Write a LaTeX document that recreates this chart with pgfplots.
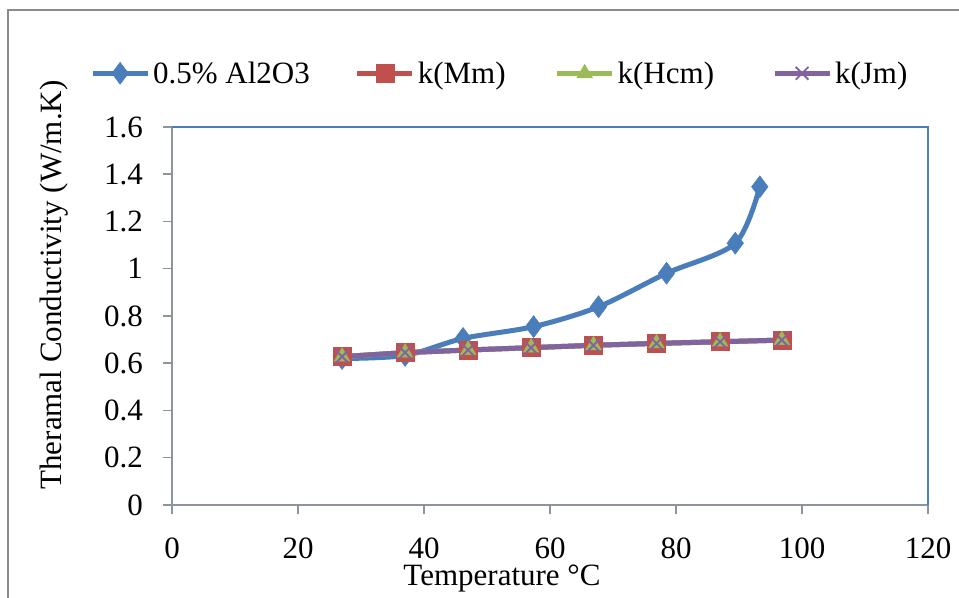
\documentclass[border=0pt]{standalone}
\usepackage{fontspec}
\setmainfont{Liberation Serif}
\usepackage{pgfplots}
\pgfplotsset{compat=1.18}
\definecolor{cblue}{HTML}{4A7EBB}
\definecolor{cred}{HTML}{C0504D}
\definecolor{cgreen}{HTML}{9BBB59}
\definecolor{cpurple}{HTML}{8064A2}
\definecolor{axgray}{HTML}{8E949C}
\definecolor{frgray}{HTML}{8A8A8A}
\newcommand\fs{\fontsize{31bp}{37bp}\selectfont}
\newcommand\gap[1]{\rule{#1}{0pt}}
\begin{document}
\begin{tikzpicture}[x=1bp,y=1bp]
\useasboundingbox (0,0) rectangle (959,598);
\draw[frgray, line width=2.5bp] (8,-5) -- (8,588) -- (970,588);
\begin{axis}[
  at={(172bp,93bp)}, anchor=south west,
  scale only axis, width=756bp, height=378bp,
  xmin=0, xmax=120, ymin=0, ymax=1.6,
  xtick={0,20,40,60,80,100,120},
  ytick={0,0.2,0.4,0.6,0.8,1,1.2,1.4,1.6},
  axis x line*=bottom, axis y line*=left,
  axis line style={-, axgray, line width=2bp},
  tick align=outside, major tick length=9bp,
  tick style={axgray, line width=1.5bp},
  /pgf/number format/assume math mode=true,
  tick label style={font=\fs, inner sep=0pt},
  yticklabel style={anchor=east, xshift=-20bp},
  xticklabel style={anchor=north, yshift=-24bp},
  xlabel={Temperature °C},
  ylabel={Theramal Conductivity (W/m.K)},
  every axis x label/.style={at={(axis description cs:0.4365,0)}, anchor=base, yshift=-81bp, font=\fs, inner sep=0pt},
  every axis y label/.style={at={(axis description cs:-0.1468,0.582)}, rotate=90, anchor=base, font=\fs, inner sep=0pt},
  legend columns=-1,
  legend style={at={(axis description cs:-0.1125,1.142)}, anchor=west, draw=none, fill=none,
    font=\fs, nodes={inner sep=0pt}, column sep=0pt},
  legend image code/.code={\draw[#1, mark repeat=2, mark phase=2] plot coordinates {(0bp,0bp) (27.5bp,0bp) (55bp,0bp)};},
  after end axis/.code={\draw[cblue, line width=2bp] (rel axis cs:0,1) -- (rel axis cs:1,1) -- (rel axis cs:1,0);},
]
\addplot[cblue, line width=5bp, smooth, mark=diamond*, mark size=11bp, mark options={solid, line width=0.5bp}] coordinates {
(27,0.620) (37,0.633) (46.2,0.705) (57.4,0.755) (67.7,0.839) (78.5,0.981) (89.4,1.108) (93.3,1.347)};
\addlegendentry{\gap{3bp}0.5\% Al2O3\gap{45bp}}
\addplot[cred, line width=5bp, mark=square*, mark size=9bp, mark options={solid, line width=0.5bp}] coordinates {
(27,0.628) (37,0.645) (47,0.656) (57,0.666) (66.9,0.676) (76.9,0.684) (87,0.691) (96.8,0.698)};
\addlegendentry{\gap{3bp}k(Mm)\gap{49bp}}
\addplot[cgreen, line width=5bp, mark=triangle*, mark size=9bp, mark options={solid, line width=0.5bp}] coordinates {
(27,0.628) (37,0.645) (47,0.656) (57,0.666) (66.9,0.676) (76.9,0.684) (87,0.691) (96.8,0.698)};
\addlegendentry{\gap{3bp}k(Hcm)\gap{58bp}}
\addplot[cpurple, line width=5bp, mark=x, mark size=9bp, mark options={solid, line width=1.8bp}] coordinates {
(27,0.628) (37,0.645) (47,0.656) (57,0.666) (66.9,0.676) (76.9,0.684) (87,0.691) (96.8,0.698)};
\addlegendentry{\gap{3bp}k(Jm)}
\end{axis}
\end{tikzpicture}
\end{document}
